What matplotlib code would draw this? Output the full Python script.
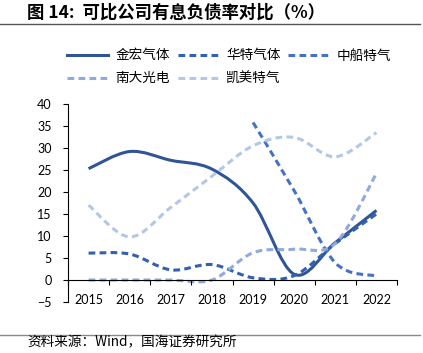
import matplotlib.pyplot as plt
from matplotlib.lines import Line2D
from matplotlib.patches import PathPatch
from matplotlib.path import Path

plt.rcParams["font.family"] = ["Lato", "Noto Sans CJK SC", "DejaVu Sans"]

years = ["2015", "2016", "2017", "2018", "2019", "2020", "2021", "2022"]
jinhong = [25.3, 29.2, 27.2, 25.2, 17.5, 1.3, 8.5, 15.8]
huate = [6.1, 5.9, 2.3, 3.5, 0.5, 1.0, 8.3, 15.0]
zhongchuan = [None, None, None, None, 35.8, 20.3, 3.9, 0.9]
nanda = [0.0, 0.0, 0.0, 0.0, 6.2, 7.0, 8.3, 24.2]
kaimei = [17.0, 9.8, 16.5, 23.6, 30.5, 32.4, 28.0, 33.5]

series = [
    ("金宏气体", jinhong, "#2F5597", "-"),
    ("华特气体", huate, "#3360B0", "--"),
    ("中船特气", zhongchuan, "#4472C4", "--"),
    ("南大光电", nanda, "#8FAADC", "--"),
    ("凯美特气", kaimei, "#B4C7E7", "--"),
]

CJK = ["Noto Sans CJK SC", "DejaVu Sans"]
DASH = (0, (2.2, 1.4))


def smooth_path(values):
    # Excel-like smoothed line: cubic Bezier through each point
    pts = [(i, v) for i, v in enumerate(values) if v is not None]
    n = len(pts)
    verts = [pts[0]]
    codes = [Path.MOVETO]
    for i in range(n - 1):
        p0 = pts[max(i - 1, 0)]
        p1 = pts[i]
        p2 = pts[i + 1]
        p3 = pts[min(i + 2, n - 1)]
        c1 = (p1[0] + (p2[0] - p0[0]) / 6, p1[1] + (p2[1] - p0[1]) / 6)
        c2 = (p2[0] - (p3[0] - p1[0]) / 6, p2[1] - (p3[1] - p1[1]) / 6)
        verts += [c1, c2, p2]
        codes += [Path.CURVE4] * 3
    return Path(verts, codes)


fig = plt.figure(figsize=(4.23, 3.53), dpi=100)
ax = fig.add_axes([0.1608, 0.1445, 0.7777, 0.5609])

handles = []
for name, vals, color, style in series:
    ls = "-" if style == "-" else DASH
    patch = PathPatch(smooth_path(vals), fill=False, edgecolor=color, lw=2.2,
                      linestyle=ls, capstyle="butt", joinstyle="round")
    ax.add_patch(patch)
    handles.append(Line2D([], [], color=color, lw=2.2, linestyle=ls, label=name))

ax.set_xlim(-0.5, len(years) - 0.5)
ax.set_ylim(-5, 40)
ax.set_yticks(range(-5, 41, 5))
ax.set_xticks([i - 0.5 for i in range(len(years) + 1)])
ax.set_xticklabels([])
ax.set_xticks(range(len(years)), minor=True)
ax.set_xticklabels(years, minor=True)
ax.tick_params(axis="x", which="major", direction="out", length=3.6, width=0.8)
ax.tick_params(axis="x", which="minor", length=0, pad=10, labelsize=9)
ax.tick_params(axis="y", direction="out", length=3.6, width=0.8, pad=8, labelsize=9)

for side in ["top", "right"]:
    ax.spines[side].set_visible(False)
ax.spines["bottom"].set_position(("data", 0))
ax.spines["left"].set_linewidth(0.8)
ax.spines["bottom"].set_linewidth(0.8)

order = [0, 3, 1, 4, 2]
fig.legend([handles[i] for i in order], [handles[i].get_label() for i in order],
           ncol=3, loc="upper left", bbox_to_anchor=(0.143, 0.882), frameon=False,
           borderpad=0, handlelength=3.0, handletextpad=0.55, columnspacing=0.55,
           labelspacing=0.65, prop={"family": CJK, "size": 9.8})

fig.text(0.064, 0.963, "图 14:  可比公司有息负债率对比（%）", fontsize=12.5, fontweight="bold",
         family=CJK, va="center", ha="left")
fig.add_artist(Line2D([0.0, 0.993], [0.932, 0.932], color="#555555", lw=1.0))
fig.add_artist(Line2D([0.0, 0.993], [0.051, 0.051], color="#888888", lw=1.0))
fig.text(0.064, 0.031, "资料来源：Wind，国海证券研究所", fontsize=9.8, family=CJK,
         va="center", ha="left")

fig.savefig("out.png", dpi=100)
